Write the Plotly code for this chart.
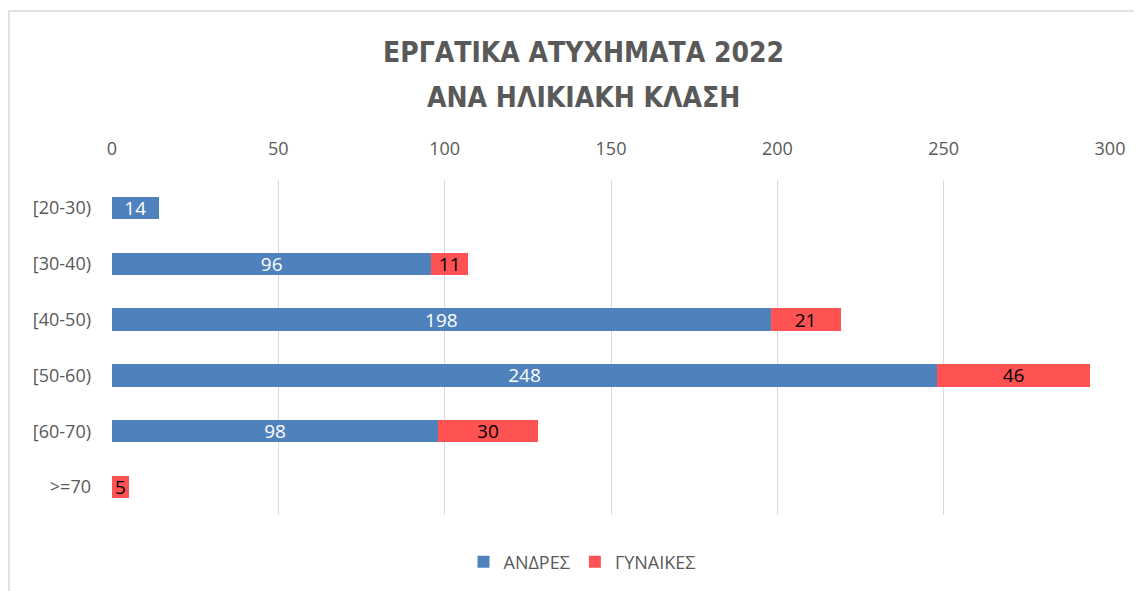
import plotly.graph_objects as go

categories = ["[20-30)", "[30-40)", "[40-50)", "[50-60)", "[60-70)", ">=70"]
men = [14, 96, 198, 248, 98, None]
women = [None, 11, 21, 46, 30, 5]
x_ticks = [0, 50, 100, 150, 200, 250, 300]

W, H = 1142, 591
OFF = 8  # page body margin offset
# plot area in page pixels: x 112..1110, y 180..515
L = 112 - OFF
T = 180 - OFF
R = W - (1110 - OFF)
B = H - (515 - OFF)
pw, ph = W - L - R, H - T - B

def px_x(p):
    return (p - OFF - L) / pw

def px_y(p):
    return (H - B - (p - OFF)) / ph

fig = go.Figure()
fig.add_trace(go.Bar(
    y=categories, x=men, name="ΑΝΔΡΕΣ", orientation="h",
    marker=dict(color="#4F81BD", line=dict(width=0)),
    text=[str(v) if v is not None else "" for v in men],
    textposition="inside", insidetextanchor="middle", textangle=0,
    constraintext="none",
    textfont=dict(color="white", size=19, family="Open Sans"),
    width=0.4,
))
fig.add_trace(go.Bar(
    y=categories, x=women, name="ΓΥΝΑΙΚΕΣ", orientation="h",
    marker=dict(color="#FF5252", line=dict(width=0)),
    text=[str(v) if v is not None else "" for v in women],
    textposition="inside", insidetextanchor="middle", textangle=0,
    constraintext="none",
    textfont=dict(color="black", size=19, family="Open Sans"),
    width=0.4,
))

fig.update_layout(
    width=W, height=H,
    barmode="stack",
    margin=dict(l=L, r=R, t=T, b=B, autoexpand=False),
    paper_bgcolor="white", plot_bgcolor="white",
    font=dict(family="Open Sans", color="#595959", size=18),
    showlegend=True,
    legend=dict(orientation="h", x=px_x(582), y=px_y(562),
                xanchor="center", yanchor="middle",
                font=dict(size=18, color="#595959"),
                traceorder="normal"),
    xaxis=dict(side="top", range=[0, 300], tickvals=x_ticks, automargin=False,
               showgrid=True, gridcolor="#D9D9D9", gridwidth=1,
               zeroline=False, showline=False, ticks="",
               ticklabelstandoff=20, tickfont=dict(size=18, color="#595959")),
    yaxis=dict(autorange="reversed", showgrid=False, zeroline=False, automargin=False,
               showline=False, ticks="", ticklabelstandoff=20,
               tickfont=dict(size=18, color="#595959")),
)

title_font = dict(family="DejaVu Sans Condensed", size=28, color="#595959")
fig.add_annotation(text="<b>ΕΡΓΑΤΙΚΑ ΑΤΥΧΗΜΑΤΑ 2022</b>", xref="paper", yref="paper",
                   x=px_x(583), y=px_y(53), showarrow=False, font=title_font,
                   xanchor="center", yanchor="middle")
fig.add_annotation(text="<b>ΑΝΑ ΗΛΙΚΙΑΚΗ ΚΛΑΣΗ</b>", xref="paper", yref="paper",
                   x=px_x(583), y=px_y(98), showarrow=False, font=title_font,
                   xanchor="center", yanchor="middle")

fig.add_shape(type="rect", xref="paper", yref="paper",
              x0=px_x(9), x1=px_x(1160), y0=px_y(610), y1=px_y(11),
              line=dict(color="#D9D9D9", width=1.5), fillcolor="rgba(0,0,0,0)",
              layer="below")

fig.write_html("out.html")
